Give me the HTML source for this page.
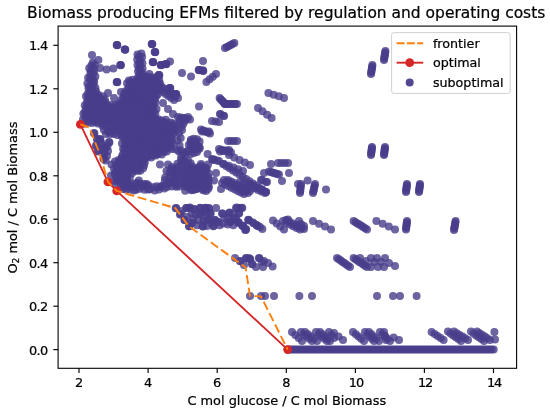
<!DOCTYPE html>
<html><head><meta charset="utf-8"><title>Biomass producing EFMs</title>
<style>html,body{margin:0;padding:0;background:#fff}body{width:550px;height:415px;overflow:hidden}</style></head>
<body>
<svg width="550" height="415" viewBox="0 0 550 415" style="display:block">
<rect width="550" height="415" fill="#fff"/>
<defs><clipPath id="c"><rect x="58.1" y="26.1" width="458.5" height="342.2"/></clipPath></defs>
<g clip-path="url(#c)">
<g fill="#483d8b" fill-opacity="0.8">
<circle cx="287.7" cy="349.6" r="4.0"/>
<circle cx="289.7" cy="349.6" r="4.0"/>
<circle cx="291.7" cy="349.6" r="4.0"/>
<circle cx="293.7" cy="349.6" r="4.0"/>
<circle cx="295.7" cy="349.6" r="4.0"/>
<circle cx="297.7" cy="349.6" r="4.0"/>
<circle cx="299.7" cy="349.6" r="4.0"/>
<circle cx="301.7" cy="349.6" r="4.0"/>
<circle cx="303.7" cy="349.6" r="4.0"/>
<circle cx="305.7" cy="349.6" r="4.0"/>
<circle cx="307.7" cy="349.6" r="4.0"/>
<circle cx="309.7" cy="349.6" r="4.0"/>
<circle cx="311.7" cy="349.6" r="4.0"/>
<circle cx="313.7" cy="349.6" r="4.0"/>
<circle cx="315.7" cy="349.6" r="4.0"/>
<circle cx="317.7" cy="349.6" r="4.0"/>
<circle cx="319.7" cy="349.6" r="4.0"/>
<circle cx="321.7" cy="349.6" r="4.0"/>
<circle cx="323.7" cy="349.6" r="4.0"/>
<circle cx="325.7" cy="349.6" r="4.0"/>
<circle cx="327.7" cy="349.6" r="4.0"/>
<circle cx="329.7" cy="349.6" r="4.0"/>
<circle cx="331.7" cy="349.6" r="4.0"/>
<circle cx="333.7" cy="349.6" r="4.0"/>
<circle cx="335.7" cy="349.6" r="4.0"/>
<circle cx="337.7" cy="349.6" r="4.0"/>
<circle cx="339.7" cy="349.6" r="4.0"/>
<circle cx="341.7" cy="349.6" r="4.0"/>
<circle cx="343.7" cy="349.6" r="4.0"/>
<circle cx="345.7" cy="349.6" r="4.0"/>
<circle cx="347.7" cy="349.6" r="4.0"/>
<circle cx="349.7" cy="349.6" r="4.0"/>
<circle cx="351.7" cy="349.6" r="4.0"/>
<circle cx="353.7" cy="349.6" r="4.0"/>
<circle cx="355.7" cy="349.6" r="4.0"/>
<circle cx="357.7" cy="349.6" r="4.0"/>
<circle cx="359.7" cy="349.6" r="4.0"/>
<circle cx="361.7" cy="349.6" r="4.0"/>
<circle cx="363.7" cy="349.6" r="4.0"/>
<circle cx="365.7" cy="349.6" r="4.0"/>
<circle cx="367.7" cy="349.6" r="4.0"/>
<circle cx="369.7" cy="349.6" r="4.0"/>
<circle cx="371.7" cy="349.6" r="4.0"/>
<circle cx="373.7" cy="349.6" r="4.0"/>
<circle cx="375.7" cy="349.6" r="4.0"/>
<circle cx="377.7" cy="349.6" r="4.0"/>
<circle cx="379.7" cy="349.6" r="4.0"/>
<circle cx="381.7" cy="349.6" r="4.0"/>
<circle cx="383.7" cy="349.6" r="4.0"/>
<circle cx="385.7" cy="349.6" r="4.0"/>
<circle cx="387.7" cy="349.6" r="4.0"/>
<circle cx="389.7" cy="349.6" r="4.0"/>
<circle cx="391.7" cy="349.6" r="4.0"/>
<circle cx="393.7" cy="349.6" r="4.0"/>
<circle cx="395.7" cy="349.6" r="4.0"/>
<circle cx="397.7" cy="349.6" r="4.0"/>
<circle cx="399.7" cy="349.6" r="4.0"/>
<circle cx="401.7" cy="349.6" r="4.0"/>
<circle cx="403.7" cy="349.6" r="4.0"/>
<circle cx="405.7" cy="349.6" r="4.0"/>
<circle cx="407.7" cy="349.6" r="4.0"/>
<circle cx="409.7" cy="349.6" r="4.0"/>
<circle cx="411.7" cy="349.6" r="4.0"/>
<circle cx="413.7" cy="349.6" r="4.0"/>
<circle cx="415.7" cy="349.6" r="4.0"/>
<circle cx="417.7" cy="349.6" r="4.0"/>
<circle cx="419.7" cy="349.6" r="4.0"/>
<circle cx="421.7" cy="349.6" r="4.0"/>
<circle cx="423.7" cy="349.6" r="4.0"/>
<circle cx="425.7" cy="349.6" r="4.0"/>
<circle cx="427.7" cy="349.6" r="4.0"/>
<circle cx="429.7" cy="349.6" r="4.0"/>
<circle cx="431.7" cy="349.6" r="4.0"/>
<circle cx="433.7" cy="349.6" r="4.0"/>
<circle cx="435.7" cy="349.6" r="4.0"/>
<circle cx="437.7" cy="349.6" r="4.0"/>
<circle cx="439.7" cy="349.6" r="4.0"/>
<circle cx="441.7" cy="349.6" r="4.0"/>
<circle cx="443.7" cy="349.6" r="4.0"/>
<circle cx="445.7" cy="349.6" r="4.0"/>
<circle cx="447.7" cy="349.6" r="4.0"/>
<circle cx="449.7" cy="349.6" r="4.0"/>
<circle cx="451.7" cy="349.6" r="4.0"/>
<circle cx="453.7" cy="349.6" r="4.0"/>
<circle cx="455.7" cy="349.6" r="4.0"/>
<circle cx="457.7" cy="349.6" r="4.0"/>
<circle cx="459.7" cy="349.6" r="4.0"/>
<circle cx="461.7" cy="349.6" r="4.0"/>
<circle cx="463.7" cy="349.6" r="4.0"/>
<circle cx="465.7" cy="349.6" r="4.0"/>
<circle cx="467.7" cy="349.6" r="4.0"/>
<circle cx="469.7" cy="349.6" r="4.0"/>
<circle cx="471.7" cy="349.6" r="4.0"/>
<circle cx="473.7" cy="349.6" r="4.0"/>
<circle cx="475.7" cy="349.6" r="4.0"/>
<circle cx="477.7" cy="349.6" r="4.0"/>
<circle cx="479.7" cy="349.6" r="4.0"/>
<circle cx="481.7" cy="349.6" r="4.0"/>
<circle cx="483.7" cy="349.6" r="4.0"/>
<circle cx="485.7" cy="349.6" r="4.0"/>
<circle cx="487.7" cy="349.6" r="4.0"/>
<circle cx="489.7" cy="349.6" r="4.0"/>
<circle cx="491.7" cy="349.6" r="4.0"/>
<circle cx="493.7" cy="349.6" r="4.0"/>
<circle cx="292.0" cy="332.0" r="4.0"/>
<circle cx="295.3" cy="335.0" r="4.0"/>
<circle cx="298.7" cy="338.0" r="4.0"/>
<circle cx="302.0" cy="341.0" r="4.0"/>
<circle cx="301.0" cy="332.0" r="4.0"/>
<circle cx="303.8" cy="334.2" r="4.0"/>
<circle cx="306.5" cy="336.5" r="4.0"/>
<circle cx="309.2" cy="338.8" r="4.0"/>
<circle cx="312.0" cy="341.0" r="4.0"/>
<circle cx="305.0" cy="332.0" r="4.0"/>
<circle cx="308.0" cy="334.2" r="4.0"/>
<circle cx="311.0" cy="336.5" r="4.0"/>
<circle cx="314.0" cy="338.8" r="4.0"/>
<circle cx="317.0" cy="341.0" r="4.0"/>
<circle cx="316.0" cy="332.0" r="4.0"/>
<circle cx="318.8" cy="334.2" r="4.0"/>
<circle cx="321.5" cy="336.5" r="4.0"/>
<circle cx="324.2" cy="338.8" r="4.0"/>
<circle cx="327.0" cy="341.0" r="4.0"/>
<circle cx="320.0" cy="332.0" r="4.0"/>
<circle cx="322.5" cy="334.2" r="4.0"/>
<circle cx="325.0" cy="336.5" r="4.0"/>
<circle cx="327.5" cy="338.8" r="4.0"/>
<circle cx="330.0" cy="341.0" r="4.0"/>
<circle cx="329.0" cy="332.0" r="4.0"/>
<circle cx="331.5" cy="335.0" r="4.0"/>
<circle cx="334.0" cy="338.0" r="4.0"/>
<circle cx="334.0" cy="333.0" r="4.0"/>
<circle cx="338.5" cy="336.5" r="4.0"/>
<circle cx="343.0" cy="340.0" r="4.0"/>
<circle cx="353.0" cy="332.0" r="4.0"/>
<circle cx="355.8" cy="334.2" r="4.0"/>
<circle cx="358.5" cy="336.5" r="4.0"/>
<circle cx="361.2" cy="338.8" r="4.0"/>
<circle cx="364.0" cy="341.0" r="4.0"/>
<circle cx="365.0" cy="332.0" r="4.0"/>
<circle cx="367.2" cy="334.2" r="4.0"/>
<circle cx="369.5" cy="336.5" r="4.0"/>
<circle cx="371.8" cy="338.8" r="4.0"/>
<circle cx="374.0" cy="341.0" r="4.0"/>
<circle cx="369.0" cy="332.0" r="4.0"/>
<circle cx="371.5" cy="334.2" r="4.0"/>
<circle cx="374.0" cy="336.5" r="4.0"/>
<circle cx="376.5" cy="338.8" r="4.0"/>
<circle cx="379.0" cy="341.0" r="4.0"/>
<circle cx="380.0" cy="332.0" r="4.0"/>
<circle cx="382.5" cy="334.2" r="4.0"/>
<circle cx="385.0" cy="336.5" r="4.0"/>
<circle cx="387.5" cy="338.8" r="4.0"/>
<circle cx="390.0" cy="341.0" r="4.0"/>
<circle cx="384.0" cy="332.0" r="4.0"/>
<circle cx="385.0" cy="336.0" r="4.0"/>
<circle cx="386.0" cy="340.0" r="4.0"/>
<circle cx="431.6" cy="332.0" r="4.0"/>
<circle cx="434.6" cy="334.0" r="4.0"/>
<circle cx="437.6" cy="336.0" r="4.0"/>
<circle cx="440.6" cy="338.0" r="4.0"/>
<circle cx="443.6" cy="340.0" r="4.0"/>
<circle cx="448.0" cy="331.6" r="4.0"/>
<circle cx="450.6" cy="333.5" r="4.0"/>
<circle cx="453.2" cy="335.4" r="4.0"/>
<circle cx="455.8" cy="337.2" r="4.0"/>
<circle cx="458.4" cy="339.1" r="4.0"/>
<circle cx="461.0" cy="341.0" r="4.0"/>
<circle cx="454.0" cy="331.6" r="4.0"/>
<circle cx="456.8" cy="333.3" r="4.0"/>
<circle cx="459.6" cy="335.0" r="4.0"/>
<circle cx="462.4" cy="336.6" r="4.0"/>
<circle cx="465.2" cy="338.3" r="4.0"/>
<circle cx="468.0" cy="340.0" r="4.0"/>
<circle cx="471.0" cy="331.6" r="4.0"/>
<circle cx="473.6" cy="333.5" r="4.0"/>
<circle cx="476.2" cy="335.4" r="4.0"/>
<circle cx="478.8" cy="337.2" r="4.0"/>
<circle cx="481.4" cy="339.1" r="4.0"/>
<circle cx="484.0" cy="341.0" r="4.0"/>
<circle cx="477.0" cy="331.6" r="4.0"/>
<circle cx="479.6" cy="333.3" r="4.0"/>
<circle cx="482.2" cy="335.0" r="4.0"/>
<circle cx="484.8" cy="336.6" r="4.0"/>
<circle cx="487.4" cy="338.3" r="4.0"/>
<circle cx="490.0" cy="340.0" r="4.0"/>
<circle cx="393.6" cy="337.6" r="4.0"/>
<circle cx="399.0" cy="340.0" r="4.0"/>
<circle cx="494.4" cy="332.0" r="4.0"/>
<circle cx="495.0" cy="339.6" r="4.0"/>
<circle cx="250.0" cy="296.0" r="4.0"/>
<circle cx="261.0" cy="296.0" r="4.0"/>
<circle cx="265.0" cy="296.0" r="4.0"/>
<circle cx="274.0" cy="296.0" r="4.0"/>
<circle cx="299.4" cy="296.0" r="4.0"/>
<circle cx="312.0" cy="296.0" r="4.0"/>
<circle cx="377.0" cy="296.0" r="4.0"/>
<circle cx="393.0" cy="296.0" r="4.0"/>
<circle cx="400.0" cy="296.0" r="4.0"/>
<circle cx="416.6" cy="296.0" r="4.0"/>
<circle cx="235.0" cy="258.0" r="4.0"/>
<circle cx="240.0" cy="261.0" r="4.0"/>
<circle cx="244.0" cy="265.0" r="4.0"/>
<circle cx="246.0" cy="258.0" r="4.0"/>
<circle cx="250.0" cy="259.0" r="4.0"/>
<circle cx="252.0" cy="264.0" r="4.0"/>
<circle cx="256.0" cy="267.0" r="4.0"/>
<circle cx="259.0" cy="258.0" r="4.0"/>
<circle cx="262.0" cy="262.0" r="4.0"/>
<circle cx="263.0" cy="267.0" r="4.0"/>
<circle cx="268.0" cy="263.0" r="4.0"/>
<circle cx="272.6" cy="266.4" r="4.0"/>
<circle cx="249.0" cy="258.0" r="4.0"/>
<circle cx="264.0" cy="261.0" r="4.0"/>
<circle cx="246.3" cy="258.3" r="4.0"/>
<circle cx="250.3" cy="259.3" r="4.0"/>
<circle cx="259.3" cy="258.3" r="4.0"/>
<circle cx="252.3" cy="264.3" r="4.0"/>
<circle cx="240.3" cy="261.3" r="4.0"/>
<circle cx="337.0" cy="258.0" r="4.0"/>
<circle cx="338.9" cy="259.3" r="4.0"/>
<circle cx="340.7" cy="260.6" r="4.0"/>
<circle cx="342.6" cy="261.9" r="4.0"/>
<circle cx="344.4" cy="263.1" r="4.0"/>
<circle cx="346.3" cy="264.4" r="4.0"/>
<circle cx="348.1" cy="265.7" r="4.0"/>
<circle cx="350.0" cy="267.0" r="4.0"/>
<circle cx="353.6" cy="258.0" r="4.0"/>
<circle cx="355.5" cy="259.3" r="4.0"/>
<circle cx="357.4" cy="260.6" r="4.0"/>
<circle cx="359.3" cy="261.9" r="4.0"/>
<circle cx="361.3" cy="263.1" r="4.0"/>
<circle cx="363.2" cy="264.4" r="4.0"/>
<circle cx="365.1" cy="265.7" r="4.0"/>
<circle cx="367.0" cy="267.0" r="4.0"/>
<circle cx="360.0" cy="258.0" r="4.0"/>
<circle cx="366.0" cy="261.0" r="4.0"/>
<circle cx="371.0" cy="258.0" r="4.0"/>
<circle cx="377.0" cy="258.0" r="4.0"/>
<circle cx="385.0" cy="258.0" r="4.0"/>
<circle cx="371.0" cy="267.0" r="4.0"/>
<circle cx="378.0" cy="267.0" r="4.0"/>
<circle cx="384.0" cy="267.0" r="4.0"/>
<circle cx="389.0" cy="263.0" r="4.0"/>
<circle cx="395.0" cy="266.0" r="4.0"/>
<circle cx="374.0" cy="262.0" r="4.0"/>
<circle cx="381.0" cy="262.0" r="4.0"/>
<circle cx="238.0" cy="222.0" r="4.0"/>
<circle cx="242.0" cy="225.5" r="4.0"/>
<circle cx="246.0" cy="229.0" r="4.0"/>
<circle cx="249.0" cy="220.4" r="4.0"/>
<circle cx="253.5" cy="223.3" r="4.0"/>
<circle cx="257.9" cy="226.1" r="4.0"/>
<circle cx="262.4" cy="229.0" r="4.0"/>
<circle cx="273.0" cy="220.4" r="4.0"/>
<circle cx="276.7" cy="223.5" r="4.0"/>
<circle cx="280.3" cy="226.5" r="4.0"/>
<circle cx="284.0" cy="229.6" r="4.0"/>
<circle cx="283.0" cy="221.0" r="4.0"/>
<circle cx="286.4" cy="222.7" r="4.0"/>
<circle cx="289.8" cy="224.4" r="4.0"/>
<circle cx="293.2" cy="226.2" r="4.0"/>
<circle cx="296.6" cy="227.9" r="4.0"/>
<circle cx="300.0" cy="229.6" r="4.0"/>
<circle cx="286.0" cy="220.0" r="4.0"/>
<circle cx="289.2" cy="221.6" r="4.0"/>
<circle cx="292.4" cy="223.2" r="4.0"/>
<circle cx="295.6" cy="224.8" r="4.0"/>
<circle cx="298.8" cy="226.4" r="4.0"/>
<circle cx="302.0" cy="228.0" r="4.0"/>
<circle cx="288.0" cy="219.6" r="4.0"/>
<circle cx="299.0" cy="221.0" r="4.0"/>
<circle cx="304.0" cy="229.0" r="4.0"/>
<circle cx="301.0" cy="224.0" r="4.0"/>
<circle cx="304.0" cy="226.0" r="4.0"/>
<circle cx="313.0" cy="221.0" r="4.0"/>
<circle cx="319.0" cy="223.8" r="4.0"/>
<circle cx="325.0" cy="226.6" r="4.0"/>
<circle cx="331.0" cy="229.4" r="4.0"/>
<circle cx="353.6" cy="221.0" r="4.0"/>
<circle cx="355.5" cy="222.2" r="4.0"/>
<circle cx="357.4" cy="223.4" r="4.0"/>
<circle cx="359.3" cy="224.6" r="4.0"/>
<circle cx="361.3" cy="225.8" r="4.0"/>
<circle cx="363.2" cy="227.0" r="4.0"/>
<circle cx="365.1" cy="228.2" r="4.0"/>
<circle cx="367.0" cy="229.4" r="4.0"/>
<circle cx="376.4" cy="221.0" r="4.0"/>
<circle cx="382.6" cy="223.8" r="4.0"/>
<circle cx="388.8" cy="226.6" r="4.0"/>
<circle cx="395.0" cy="229.4" r="4.0"/>
<circle cx="407.0" cy="221.0" r="4.0"/>
<circle cx="406.8" cy="222.4" r="4.0"/>
<circle cx="406.7" cy="223.8" r="4.0"/>
<circle cx="406.5" cy="225.2" r="4.0"/>
<circle cx="406.3" cy="226.7" r="4.0"/>
<circle cx="406.2" cy="228.1" r="4.0"/>
<circle cx="406.0" cy="229.5" r="4.0"/>
<circle cx="455.6" cy="221.0" r="4.0"/>
<circle cx="455.3" cy="222.5" r="4.0"/>
<circle cx="455.1" cy="224.0" r="4.0"/>
<circle cx="454.8" cy="225.5" r="4.0"/>
<circle cx="454.5" cy="227.0" r="4.0"/>
<circle cx="454.3" cy="228.5" r="4.0"/>
<circle cx="454.0" cy="230.0" r="4.0"/>
<circle cx="176.3" cy="208.1" r="4.0"/>
<circle cx="175.7" cy="208.3" r="4.0"/>
<circle cx="186.3" cy="208.1" r="4.0"/>
<circle cx="186.4" cy="208.0" r="4.0"/>
<circle cx="189.9" cy="208.1" r="4.0"/>
<circle cx="189.9" cy="207.6" r="4.0"/>
<circle cx="200.7" cy="208.1" r="4.0"/>
<circle cx="200.0" cy="207.7" r="4.0"/>
<circle cx="205.2" cy="208.1" r="4.0"/>
<circle cx="205.7" cy="207.7" r="4.0"/>
<circle cx="208.9" cy="208.1" r="4.0"/>
<circle cx="209.1" cy="208.5" r="4.0"/>
<circle cx="216.1" cy="208.1" r="4.0"/>
<circle cx="236.0" cy="208.1" r="4.0"/>
<circle cx="236.8" cy="207.6" r="4.0"/>
<circle cx="239.6" cy="208.1" r="4.0"/>
<circle cx="242.3" cy="208.1" r="4.0"/>
<circle cx="241.7" cy="207.7" r="4.0"/>
<circle cx="180.0" cy="214.5" r="4.0"/>
<circle cx="180.5" cy="214.2" r="4.0"/>
<circle cx="191.7" cy="213.5" r="4.0"/>
<circle cx="195.3" cy="214.5" r="4.0"/>
<circle cx="199.8" cy="214.5" r="4.0"/>
<circle cx="199.9" cy="214.1" r="4.0"/>
<circle cx="210.7" cy="213.5" r="4.0"/>
<circle cx="210.2" cy="213.7" r="4.0"/>
<circle cx="222.4" cy="213.5" r="4.0"/>
<circle cx="222.1" cy="213.6" r="4.0"/>
<circle cx="229.6" cy="212.6" r="4.0"/>
<circle cx="229.3" cy="212.9" r="4.0"/>
<circle cx="233.3" cy="213.5" r="4.0"/>
<circle cx="184.5" cy="219.9" r="4.0"/>
<circle cx="184.6" cy="219.9" r="4.0"/>
<circle cx="193.5" cy="219.0" r="4.0"/>
<circle cx="198.0" cy="219.9" r="4.0"/>
<circle cx="203.4" cy="220.8" r="4.0"/>
<circle cx="204.2" cy="220.4" r="4.0"/>
<circle cx="208.0" cy="219.9" r="4.0"/>
<circle cx="208.4" cy="219.6" r="4.0"/>
<circle cx="215.2" cy="219.9" r="4.0"/>
<circle cx="214.5" cy="220.1" r="4.0"/>
<circle cx="224.2" cy="218.0" r="4.0"/>
<circle cx="227.8" cy="217.2" r="4.0"/>
<circle cx="232.4" cy="219.9" r="4.0"/>
<circle cx="189.0" cy="226.2" r="4.0"/>
<circle cx="189.3" cy="226.3" r="4.0"/>
<circle cx="197.0" cy="225.3" r="4.0"/>
<circle cx="202.5" cy="226.2" r="4.0"/>
<circle cx="203.0" cy="226.6" r="4.0"/>
<circle cx="213.4" cy="226.2" r="4.0"/>
<circle cx="213.7" cy="225.8" r="4.0"/>
<circle cx="219.7" cy="225.3" r="4.0"/>
<circle cx="223.3" cy="223.5" r="4.0"/>
<circle cx="227.8" cy="224.4" r="4.0"/>
<circle cx="233.3" cy="225.3" r="4.0"/>
<circle cx="238.7" cy="222.6" r="4.0"/>
<circle cx="238.5" cy="222.8" r="4.0"/>
<circle cx="243.2" cy="226.2" r="4.0"/>
<circle cx="243.1" cy="225.9" r="4.0"/>
<circle cx="245.9" cy="229.8" r="4.0"/>
<circle cx="245.2" cy="230.1" r="4.0"/>
<circle cx="248.6" cy="219.9" r="4.0"/>
<circle cx="248.2" cy="219.8" r="4.0"/>
<circle cx="253.1" cy="222.6" r="4.0"/>
<circle cx="256.8" cy="225.3" r="4.0"/>
<circle cx="256.7" cy="225.3" r="4.0"/>
<circle cx="260.0" cy="227.1" r="4.0"/>
<circle cx="182.0" cy="211.0" r="4.0"/>
<circle cx="187.0" cy="217.0" r="4.0"/>
<circle cx="192.0" cy="223.0" r="4.0"/>
<circle cx="191.9" cy="222.9" r="4.0"/>
<circle cx="206.0" cy="214.0" r="4.0"/>
<circle cx="211.0" cy="223.0" r="4.0"/>
<circle cx="218.0" cy="222.0" r="4.0"/>
<circle cx="217.5" cy="221.7" r="4.0"/>
<circle cx="230.0" cy="222.0" r="4.0"/>
<circle cx="230.0" cy="222.1" r="4.0"/>
<circle cx="236.0" cy="218.0" r="4.0"/>
<circle cx="235.2" cy="217.9" r="4.0"/>
<circle cx="239.0" cy="213.0" r="4.0"/>
<circle cx="239.1" cy="213.5" r="4.0"/>
<circle cx="207.0" cy="226.0" r="4.0"/>
<circle cx="194.0" cy="209.0" r="4.0"/>
<circle cx="194.2" cy="209.2" r="4.0"/>
<circle cx="203.0" cy="212.0" r="4.0"/>
<circle cx="203.6" cy="212.3" r="4.0"/>
<circle cx="385.4" cy="51.0" r="4.0"/>
<circle cx="385.2" cy="52.5" r="4.0"/>
<circle cx="384.9" cy="54.0" r="4.0"/>
<circle cx="384.7" cy="55.5" r="4.0"/>
<circle cx="384.5" cy="57.0" r="4.0"/>
<circle cx="384.2" cy="58.5" r="4.0"/>
<circle cx="384.0" cy="60.0" r="4.0"/>
<circle cx="372.4" cy="65.0" r="4.0"/>
<circle cx="372.2" cy="66.5" r="4.0"/>
<circle cx="371.9" cy="68.0" r="4.0"/>
<circle cx="371.7" cy="69.5" r="4.0"/>
<circle cx="371.5" cy="71.0" r="4.0"/>
<circle cx="371.2" cy="72.5" r="4.0"/>
<circle cx="371.0" cy="74.0" r="4.0"/>
<circle cx="372.0" cy="147.0" r="4.0"/>
<circle cx="371.8" cy="148.3" r="4.0"/>
<circle cx="371.7" cy="149.7" r="4.0"/>
<circle cx="371.5" cy="151.0" r="4.0"/>
<circle cx="371.3" cy="152.3" r="4.0"/>
<circle cx="371.2" cy="153.7" r="4.0"/>
<circle cx="371.0" cy="155.0" r="4.0"/>
<circle cx="385.0" cy="147.0" r="4.0"/>
<circle cx="384.8" cy="148.3" r="4.0"/>
<circle cx="384.7" cy="149.7" r="4.0"/>
<circle cx="384.5" cy="151.0" r="4.0"/>
<circle cx="384.3" cy="152.3" r="4.0"/>
<circle cx="384.2" cy="153.7" r="4.0"/>
<circle cx="384.0" cy="155.0" r="4.0"/>
<circle cx="407.0" cy="184.0" r="4.0"/>
<circle cx="406.8" cy="185.3" r="4.0"/>
<circle cx="406.7" cy="186.7" r="4.0"/>
<circle cx="406.5" cy="188.0" r="4.0"/>
<circle cx="406.3" cy="189.3" r="4.0"/>
<circle cx="406.2" cy="190.7" r="4.0"/>
<circle cx="406.0" cy="192.0" r="4.0"/>
<circle cx="420.0" cy="184.0" r="4.0"/>
<circle cx="419.8" cy="185.3" r="4.0"/>
<circle cx="419.7" cy="186.7" r="4.0"/>
<circle cx="419.5" cy="188.0" r="4.0"/>
<circle cx="419.3" cy="189.3" r="4.0"/>
<circle cx="419.2" cy="190.7" r="4.0"/>
<circle cx="419.0" cy="192.0" r="4.0"/>
<circle cx="301.0" cy="184.0" r="4.0"/>
<circle cx="300.8" cy="185.8" r="4.0"/>
<circle cx="300.6" cy="187.6" r="4.0"/>
<circle cx="300.4" cy="189.4" r="4.0"/>
<circle cx="300.2" cy="191.2" r="4.0"/>
<circle cx="300.0" cy="193.0" r="4.0"/>
<circle cx="315.0" cy="184.0" r="4.0"/>
<circle cx="314.6" cy="185.8" r="4.0"/>
<circle cx="314.2" cy="187.6" r="4.0"/>
<circle cx="313.8" cy="189.4" r="4.0"/>
<circle cx="313.4" cy="191.2" r="4.0"/>
<circle cx="313.0" cy="193.0" r="4.0"/>
<circle cx="307.6" cy="180.6" r="4.0"/>
<circle cx="326.0" cy="189.4" r="4.0"/>
<circle cx="225.0" cy="48.0" r="4.0"/>
<circle cx="226.9" cy="47.0" r="4.0"/>
<circle cx="228.8" cy="46.0" r="4.0"/>
<circle cx="230.6" cy="45.0" r="4.0"/>
<circle cx="232.5" cy="44.0" r="4.0"/>
<circle cx="234.4" cy="43.0" r="4.0"/>
<circle cx="203.0" cy="61.0" r="4.0"/>
<circle cx="199.0" cy="70.0" r="4.0"/>
<circle cx="203.0" cy="70.6" r="4.0"/>
<circle cx="191.0" cy="76.4" r="4.0"/>
<circle cx="199.0" cy="106.5" r="4.0"/>
<circle cx="206.4" cy="82.0" r="4.0"/>
<circle cx="209.6" cy="79.3" r="4.0"/>
<circle cx="212.8" cy="76.7" r="4.0"/>
<circle cx="216.0" cy="74.0" r="4.0"/>
<circle cx="219.6" cy="98.0" r="4.0"/>
<circle cx="220.7" cy="99.2" r="4.0"/>
<circle cx="221.8" cy="100.4" r="4.0"/>
<circle cx="222.8" cy="101.6" r="4.0"/>
<circle cx="223.9" cy="102.8" r="4.0"/>
<circle cx="225.0" cy="104.0" r="4.0"/>
<circle cx="225.0" cy="104.0" r="4.0"/>
<circle cx="226.7" cy="104.0" r="4.0"/>
<circle cx="228.4" cy="104.0" r="4.0"/>
<circle cx="230.1" cy="104.0" r="4.0"/>
<circle cx="231.9" cy="104.0" r="4.0"/>
<circle cx="233.6" cy="104.0" r="4.0"/>
<circle cx="235.3" cy="104.0" r="4.0"/>
<circle cx="237.0" cy="104.0" r="4.0"/>
<circle cx="268.4" cy="93.0" r="4.0"/>
<circle cx="273.6" cy="94.7" r="4.0"/>
<circle cx="278.8" cy="96.3" r="4.0"/>
<circle cx="284.0" cy="98.0" r="4.0"/>
<circle cx="258.0" cy="108.0" r="4.0"/>
<circle cx="262.5" cy="111.3" r="4.0"/>
<circle cx="267.1" cy="114.7" r="4.0"/>
<circle cx="271.6" cy="118.0" r="4.0"/>
<circle cx="220.0" cy="114.0" r="4.0"/>
<circle cx="220.5" cy="114.2" r="4.0"/>
<circle cx="224.0" cy="116.0" r="4.0"/>
<circle cx="223.6" cy="115.8" r="4.0"/>
<circle cx="212.0" cy="121.0" r="4.0"/>
<circle cx="215.5" cy="121.5" r="4.0"/>
<circle cx="219.0" cy="122.0" r="4.0"/>
<circle cx="201.0" cy="129.5" r="4.0"/>
<circle cx="203.2" cy="130.5" r="4.0"/>
<circle cx="205.5" cy="131.5" r="4.0"/>
<circle cx="207.8" cy="132.5" r="4.0"/>
<circle cx="210.0" cy="133.5" r="4.0"/>
<circle cx="202.0" cy="131.5" r="4.0"/>
<circle cx="205.5" cy="131.5" r="4.0"/>
<circle cx="209.0" cy="131.5" r="4.0"/>
<circle cx="228.0" cy="141.0" r="4.0"/>
<circle cx="231.0" cy="141.0" r="4.0"/>
<circle cx="234.0" cy="141.0" r="4.0"/>
<circle cx="237.0" cy="141.0" r="4.0"/>
<circle cx="219.0" cy="149.0" r="4.0"/>
<circle cx="221.4" cy="149.7" r="4.0"/>
<circle cx="223.8" cy="150.4" r="4.0"/>
<circle cx="226.2" cy="151.1" r="4.0"/>
<circle cx="228.6" cy="151.8" r="4.0"/>
<circle cx="231.0" cy="152.5" r="4.0"/>
<circle cx="220.0" cy="151.5" r="4.0"/>
<circle cx="223.0" cy="151.0" r="4.0"/>
<circle cx="226.0" cy="150.5" r="4.0"/>
<circle cx="229.0" cy="150.0" r="4.0"/>
<circle cx="207.6" cy="154.0" r="4.0"/>
<circle cx="229.0" cy="155.0" r="4.0"/>
<circle cx="234.2" cy="157.5" r="4.0"/>
<circle cx="239.5" cy="160.0" r="4.0"/>
<circle cx="244.8" cy="162.5" r="4.0"/>
<circle cx="250.0" cy="165.0" r="4.0"/>
<circle cx="212.0" cy="159.0" r="4.0"/>
<circle cx="219.0" cy="161.0" r="4.0"/>
<circle cx="214.0" cy="159.5" r="4.0"/>
<circle cx="217.0" cy="160.5" r="4.0"/>
<circle cx="213.0" cy="160.0" r="4.0"/>
<circle cx="201.0" cy="164.0" r="4.0"/>
<circle cx="208.0" cy="164.4" r="4.0"/>
<circle cx="216.0" cy="173.0" r="4.0"/>
<circle cx="214.0" cy="180.6" r="4.0"/>
<circle cx="221.0" cy="189.0" r="4.0"/>
<circle cx="224.0" cy="164.0" r="4.0"/>
<circle cx="228.8" cy="165.8" r="4.0"/>
<circle cx="233.5" cy="167.5" r="4.0"/>
<circle cx="238.2" cy="169.2" r="4.0"/>
<circle cx="243.0" cy="171.0" r="4.0"/>
<circle cx="271.0" cy="164.0" r="4.0"/>
<circle cx="264.0" cy="173.0" r="4.0"/>
<circle cx="289.0" cy="173.0" r="4.0"/>
<circle cx="262.0" cy="180.0" r="4.0"/>
<circle cx="267.0" cy="182.0" r="4.0"/>
<circle cx="282.0" cy="181.0" r="4.0"/>
<circle cx="298.0" cy="184.0" r="4.0"/>
<circle cx="278.0" cy="163.0" r="4.0"/>
<circle cx="281.3" cy="163.0" r="4.0"/>
<circle cx="284.7" cy="163.0" r="4.0"/>
<circle cx="288.0" cy="163.0" r="4.0"/>
<circle cx="269.0" cy="171.5" r="4.0"/>
<circle cx="270.7" cy="172.0" r="4.0"/>
<circle cx="272.3" cy="172.5" r="4.0"/>
<circle cx="274.0" cy="173.0" r="4.0"/>
<circle cx="275.7" cy="173.5" r="4.0"/>
<circle cx="277.3" cy="174.0" r="4.0"/>
<circle cx="279.0" cy="174.5" r="4.0"/>
<circle cx="190.9" cy="139.7" r="4.0"/>
<circle cx="193.7" cy="138.8" r="4.0"/>
<circle cx="197.0" cy="139.3" r="4.0"/>
<circle cx="190.9" cy="141.4" r="4.0"/>
<circle cx="195.3" cy="141.7" r="4.0"/>
<circle cx="199.6" cy="141.4" r="4.0"/>
<circle cx="188.8" cy="145.1" r="4.0"/>
<circle cx="193.0" cy="145.6" r="4.0"/>
<circle cx="196.9" cy="146.9" r="4.0"/>
<circle cx="192.3" cy="148.6" r="4.0"/>
<circle cx="195.4" cy="149.1" r="4.0"/>
<circle cx="199.7" cy="148.5" r="4.0"/>
<circle cx="190.8" cy="154.1" r="4.0"/>
<circle cx="193.9" cy="152.9" r="4.0"/>
<circle cx="197.0" cy="152.0" r="4.0"/>
<circle cx="185.6" cy="168.4" r="4.0"/>
<circle cx="190.8" cy="168.2" r="4.0"/>
<circle cx="192.9" cy="170.1" r="4.0"/>
<circle cx="198.1" cy="168.2" r="4.0"/>
<circle cx="202.1" cy="167.9" r="4.0"/>
<circle cx="206.1" cy="170.1" r="4.0"/>
<circle cx="188.9" cy="173.0" r="4.0"/>
<circle cx="191.4" cy="172.2" r="4.0"/>
<circle cx="195.2" cy="173.1" r="4.0"/>
<circle cx="200.1" cy="173.1" r="4.0"/>
<circle cx="203.6" cy="171.8" r="4.0"/>
<circle cx="208.7" cy="173.6" r="4.0"/>
<circle cx="186.8" cy="176.7" r="4.0"/>
<circle cx="190.8" cy="176.5" r="4.0"/>
<circle cx="193.3" cy="176.0" r="4.0"/>
<circle cx="197.7" cy="174.8" r="4.0"/>
<circle cx="200.9" cy="175.4" r="4.0"/>
<circle cx="205.4" cy="176.4" r="4.0"/>
<circle cx="189.1" cy="179.3" r="4.0"/>
<circle cx="193.0" cy="180.6" r="4.0"/>
<circle cx="197.1" cy="179.1" r="4.0"/>
<circle cx="199.3" cy="178.8" r="4.0"/>
<circle cx="203.3" cy="178.7" r="4.0"/>
<circle cx="208.3" cy="180.4" r="4.0"/>
<circle cx="186.8" cy="182.9" r="4.0"/>
<circle cx="190.4" cy="183.6" r="4.0"/>
<circle cx="193.0" cy="183.3" r="4.0"/>
<circle cx="199.0" cy="183.6" r="4.0"/>
<circle cx="202.6" cy="182.9" r="4.0"/>
<circle cx="205.2" cy="183.6" r="4.0"/>
<circle cx="187.6" cy="187.1" r="4.0"/>
<circle cx="193.1" cy="186.2" r="4.0"/>
<circle cx="195.8" cy="187.5" r="4.0"/>
<circle cx="200.5" cy="185.6" r="4.0"/>
<circle cx="203.1" cy="185.6" r="4.0"/>
<circle cx="209.0" cy="187.1" r="4.0"/>
<circle cx="185.2" cy="190.7" r="4.0"/>
<circle cx="191.2" cy="190.3" r="4.0"/>
<circle cx="193.6" cy="190.0" r="4.0"/>
<circle cx="197.1" cy="188.7" r="4.0"/>
<circle cx="203.1" cy="190.2" r="4.0"/>
<circle cx="206.1" cy="190.9" r="4.0"/>
<circle cx="223.0" cy="164.0" r="4.0"/>
<circle cx="226.3" cy="166.2" r="4.0"/>
<circle cx="229.6" cy="168.3" r="4.0"/>
<circle cx="232.9" cy="170.5" r="4.0"/>
<circle cx="236.2" cy="172.6" r="4.0"/>
<circle cx="239.5" cy="174.8" r="4.0"/>
<circle cx="242.8" cy="176.9" r="4.0"/>
<circle cx="246.2" cy="179.1" r="4.0"/>
<circle cx="249.5" cy="181.2" r="4.0"/>
<circle cx="252.8" cy="183.4" r="4.0"/>
<circle cx="256.1" cy="185.5" r="4.0"/>
<circle cx="259.4" cy="187.7" r="4.0"/>
<circle cx="262.7" cy="189.8" r="4.0"/>
<circle cx="266.0" cy="192.0" r="4.0"/>
<circle cx="224.0" cy="180.0" r="4.0"/>
<circle cx="227.0" cy="181.6" r="4.0"/>
<circle cx="230.0" cy="183.2" r="4.0"/>
<circle cx="233.0" cy="184.9" r="4.0"/>
<circle cx="236.0" cy="186.5" r="4.0"/>
<circle cx="239.0" cy="188.1" r="4.0"/>
<circle cx="242.0" cy="189.8" r="4.0"/>
<circle cx="245.0" cy="191.4" r="4.0"/>
<circle cx="248.0" cy="193.0" r="4.0"/>
<circle cx="222.0" cy="183.0" r="4.0"/>
<circle cx="225.1" cy="184.6" r="4.0"/>
<circle cx="228.3" cy="186.1" r="4.0"/>
<circle cx="231.4" cy="187.7" r="4.0"/>
<circle cx="234.6" cy="189.3" r="4.0"/>
<circle cx="237.7" cy="190.9" r="4.0"/>
<circle cx="240.9" cy="192.4" r="4.0"/>
<circle cx="244.0" cy="194.0" r="4.0"/>
<circle cx="228.0" cy="180.0" r="4.0"/>
<circle cx="231.1" cy="181.6" r="4.0"/>
<circle cx="234.3" cy="183.1" r="4.0"/>
<circle cx="237.4" cy="184.7" r="4.0"/>
<circle cx="240.6" cy="186.3" r="4.0"/>
<circle cx="243.7" cy="187.9" r="4.0"/>
<circle cx="246.9" cy="189.4" r="4.0"/>
<circle cx="250.0" cy="191.0" r="4.0"/>
<circle cx="250.0" cy="184.0" r="4.0"/>
<circle cx="254.0" cy="186.0" r="4.0"/>
<circle cx="258.0" cy="188.0" r="4.0"/>
<circle cx="262.0" cy="190.0" r="4.0"/>
<circle cx="266.0" cy="192.0" r="4.0"/>
<circle cx="240.0" cy="182.0" r="4.0"/>
<circle cx="243.6" cy="183.6" r="4.0"/>
<circle cx="247.1" cy="185.1" r="4.0"/>
<circle cx="250.7" cy="186.7" r="4.0"/>
<circle cx="254.3" cy="188.3" r="4.0"/>
<circle cx="257.9" cy="189.9" r="4.0"/>
<circle cx="261.4" cy="191.4" r="4.0"/>
<circle cx="265.0" cy="193.0" r="4.0"/>
<circle cx="261.0" cy="180.0" r="4.0"/>
<circle cx="266.0" cy="182.0" r="4.0"/>
<circle cx="117.0" cy="45.0" r="4.0"/>
<circle cx="125.0" cy="49.4" r="4.0"/>
<circle cx="152.0" cy="44.0" r="4.0"/>
<circle cx="155.0" cy="52.0" r="4.0"/>
<circle cx="92.0" cy="55.0" r="4.0"/>
<circle cx="98.4" cy="60.0" r="4.0"/>
<circle cx="100.0" cy="68.0" r="4.0"/>
<circle cx="106.6" cy="69.4" r="4.0"/>
<circle cx="113.4" cy="68.6" r="4.0"/>
<circle cx="120.6" cy="65.0" r="4.0"/>
<circle cx="153.0" cy="62.0" r="4.0"/>
<circle cx="161.0" cy="65.0" r="4.0"/>
<circle cx="166.0" cy="64.0" r="4.0"/>
<circle cx="170.0" cy="61.4" r="4.0"/>
<circle cx="149.4" cy="74.0" r="4.0"/>
<circle cx="159.0" cy="75.0" r="4.0"/>
<circle cx="117.0" cy="82.0" r="4.0"/>
<circle cx="108.0" cy="93.0" r="4.0"/>
<circle cx="114.0" cy="98.0" r="4.0"/>
<circle cx="121.0" cy="92.0" r="4.0"/>
<circle cx="182.0" cy="73.0" r="4.0"/>
<circle cx="170.0" cy="88.0" r="4.0"/>
<circle cx="176.0" cy="94.0" r="4.0"/>
<circle cx="117.3" cy="45.3" r="4.0"/>
<circle cx="116.7" cy="45.0" r="4.0"/>
<circle cx="125.3" cy="49.7" r="4.0"/>
<circle cx="124.7" cy="49.4" r="4.0"/>
<circle cx="152.3" cy="44.3" r="4.0"/>
<circle cx="151.7" cy="44.0" r="4.0"/>
<circle cx="155.3" cy="52.3" r="4.0"/>
<circle cx="154.7" cy="52.0" r="4.0"/>
<circle cx="120.9" cy="65.3" r="4.0"/>
<circle cx="120.3" cy="65.0" r="4.0"/>
<circle cx="117.3" cy="82.3" r="4.0"/>
<circle cx="116.7" cy="82.0" r="4.0"/>
<circle cx="153.3" cy="62.3" r="4.0"/>
<circle cx="152.7" cy="62.0" r="4.0"/>
<circle cx="161.3" cy="65.3" r="4.0"/>
<circle cx="160.7" cy="65.0" r="4.0"/>
<circle cx="166.3" cy="64.3" r="4.0"/>
<circle cx="165.7" cy="64.0" r="4.0"/>
<circle cx="159.3" cy="75.3" r="4.0"/>
<circle cx="158.7" cy="75.0" r="4.0"/>
<circle cx="170.3" cy="88.3" r="4.0"/>
<circle cx="169.7" cy="88.0" r="4.0"/>
<circle cx="176.3" cy="94.3" r="4.0"/>
<circle cx="175.7" cy="94.0" r="4.0"/>
<circle cx="203.3" cy="70.9" r="4.0"/>
<circle cx="202.7" cy="70.6" r="4.0"/>
<circle cx="199.3" cy="70.3" r="4.0"/>
<circle cx="198.7" cy="70.0" r="4.0"/>
<circle cx="104.0" cy="130.0" r="4.0"/>
<circle cx="108.0" cy="131.0" r="4.0"/>
<circle cx="106.0" cy="134.0" r="4.0"/>
<circle cx="110.0" cy="134.0" r="4.0"/>
<circle cx="137.5" cy="54.6" r="4.0"/>
<circle cx="141.4" cy="53.5" r="4.0"/>
<circle cx="138.9" cy="56.5" r="4.0"/>
<circle cx="142.1" cy="57.0" r="4.0"/>
<circle cx="137.2" cy="59.6" r="4.0"/>
<circle cx="140.3" cy="60.4" r="4.0"/>
<circle cx="92.8" cy="62.5" r="4.0"/>
<circle cx="139.4" cy="63.3" r="4.0"/>
<circle cx="142.4" cy="63.3" r="4.0"/>
<circle cx="91.4" cy="65.5" r="4.0"/>
<circle cx="94.7" cy="64.7" r="4.0"/>
<circle cx="137.5" cy="65.0" r="4.0"/>
<circle cx="140.1" cy="66.0" r="4.0"/>
<circle cx="89.2" cy="68.3" r="4.0"/>
<circle cx="93.4" cy="68.4" r="4.0"/>
<circle cx="139.0" cy="68.4" r="4.0"/>
<circle cx="142.6" cy="68.8" r="4.0"/>
<circle cx="90.8" cy="71.3" r="4.0"/>
<circle cx="94.3" cy="70.9" r="4.0"/>
<circle cx="138.0" cy="71.2" r="4.0"/>
<circle cx="141.0" cy="71.6" r="4.0"/>
<circle cx="90.4" cy="74.0" r="4.0"/>
<circle cx="93.2" cy="74.1" r="4.0"/>
<circle cx="139.3" cy="74.4" r="4.0"/>
<circle cx="142.5" cy="74.2" r="4.0"/>
<circle cx="88.1" cy="77.7" r="4.0"/>
<circle cx="91.7" cy="77.6" r="4.0"/>
<circle cx="95.4" cy="76.6" r="4.0"/>
<circle cx="137.7" cy="77.7" r="4.0"/>
<circle cx="141.4" cy="76.4" r="4.0"/>
<circle cx="143.6" cy="76.9" r="4.0"/>
<circle cx="146.8" cy="76.6" r="4.0"/>
<circle cx="150.1" cy="77.2" r="4.0"/>
<circle cx="154.6" cy="77.6" r="4.0"/>
<circle cx="156.8" cy="77.3" r="4.0"/>
<circle cx="90.0" cy="79.3" r="4.0"/>
<circle cx="93.7" cy="80.6" r="4.0"/>
<circle cx="128.9" cy="80.6" r="4.0"/>
<circle cx="132.5" cy="79.8" r="4.0"/>
<circle cx="136.7" cy="80.4" r="4.0"/>
<circle cx="138.7" cy="79.7" r="4.0"/>
<circle cx="142.6" cy="79.6" r="4.0"/>
<circle cx="145.4" cy="79.5" r="4.0"/>
<circle cx="149.5" cy="79.1" r="4.0"/>
<circle cx="152.5" cy="79.7" r="4.0"/>
<circle cx="155.0" cy="79.6" r="4.0"/>
<circle cx="159.2" cy="79.9" r="4.0"/>
<circle cx="87.4" cy="83.5" r="4.0"/>
<circle cx="91.9" cy="83.5" r="4.0"/>
<circle cx="94.1" cy="82.3" r="4.0"/>
<circle cx="127.0" cy="83.2" r="4.0"/>
<circle cx="130.6" cy="82.1" r="4.0"/>
<circle cx="134.2" cy="83.4" r="4.0"/>
<circle cx="138.1" cy="82.3" r="4.0"/>
<circle cx="140.3" cy="83.4" r="4.0"/>
<circle cx="144.3" cy="83.0" r="4.0"/>
<circle cx="146.8" cy="82.0" r="4.0"/>
<circle cx="151.1" cy="82.6" r="4.0"/>
<circle cx="153.4" cy="83.4" r="4.0"/>
<circle cx="157.6" cy="83.2" r="4.0"/>
<circle cx="160.0" cy="83.3" r="4.0"/>
<circle cx="89.1" cy="86.2" r="4.0"/>
<circle cx="93.0" cy="85.3" r="4.0"/>
<circle cx="129.4" cy="86.3" r="4.0"/>
<circle cx="132.3" cy="85.0" r="4.0"/>
<circle cx="136.0" cy="85.2" r="4.0"/>
<circle cx="138.6" cy="85.0" r="4.0"/>
<circle cx="141.8" cy="85.1" r="4.0"/>
<circle cx="145.5" cy="85.3" r="4.0"/>
<circle cx="149.6" cy="85.2" r="4.0"/>
<circle cx="152.5" cy="85.1" r="4.0"/>
<circle cx="155.5" cy="84.8" r="4.0"/>
<circle cx="158.7" cy="84.8" r="4.0"/>
<circle cx="88.5" cy="88.5" r="4.0"/>
<circle cx="90.9" cy="88.4" r="4.0"/>
<circle cx="95.4" cy="87.8" r="4.0"/>
<circle cx="128.2" cy="88.3" r="4.0"/>
<circle cx="131.0" cy="89.0" r="4.0"/>
<circle cx="134.1" cy="88.5" r="4.0"/>
<circle cx="137.9" cy="89.2" r="4.0"/>
<circle cx="140.6" cy="89.0" r="4.0"/>
<circle cx="144.5" cy="88.7" r="4.0"/>
<circle cx="147.3" cy="88.2" r="4.0"/>
<circle cx="150.1" cy="87.9" r="4.0"/>
<circle cx="153.4" cy="88.8" r="4.0"/>
<circle cx="157.0" cy="87.9" r="4.0"/>
<circle cx="160.0" cy="89.0" r="4.0"/>
<circle cx="90.3" cy="91.6" r="4.0"/>
<circle cx="92.7" cy="90.9" r="4.0"/>
<circle cx="96.0" cy="91.3" r="4.0"/>
<circle cx="125.5" cy="91.2" r="4.0"/>
<circle cx="129.0" cy="92.1" r="4.0"/>
<circle cx="133.4" cy="91.4" r="4.0"/>
<circle cx="135.5" cy="92.1" r="4.0"/>
<circle cx="138.9" cy="91.1" r="4.0"/>
<circle cx="141.8" cy="91.1" r="4.0"/>
<circle cx="145.8" cy="91.3" r="4.0"/>
<circle cx="148.7" cy="91.3" r="4.0"/>
<circle cx="151.7" cy="90.9" r="4.0"/>
<circle cx="155.1" cy="91.2" r="4.0"/>
<circle cx="158.3" cy="90.6" r="4.0"/>
<circle cx="87.8" cy="93.8" r="4.0"/>
<circle cx="91.5" cy="94.2" r="4.0"/>
<circle cx="95.1" cy="94.4" r="4.0"/>
<circle cx="98.3" cy="94.8" r="4.0"/>
<circle cx="124.2" cy="93.9" r="4.0"/>
<circle cx="128.5" cy="93.6" r="4.0"/>
<circle cx="131.4" cy="94.4" r="4.0"/>
<circle cx="133.6" cy="94.7" r="4.0"/>
<circle cx="138.2" cy="94.4" r="4.0"/>
<circle cx="141.3" cy="94.7" r="4.0"/>
<circle cx="143.6" cy="94.2" r="4.0"/>
<circle cx="147.5" cy="94.7" r="4.0"/>
<circle cx="151.3" cy="94.7" r="4.0"/>
<circle cx="154.2" cy="94.8" r="4.0"/>
<circle cx="157.7" cy="94.5" r="4.0"/>
<circle cx="86.0" cy="96.3" r="4.0"/>
<circle cx="89.2" cy="96.8" r="4.0"/>
<circle cx="92.4" cy="97.6" r="4.0"/>
<circle cx="96.4" cy="97.3" r="4.0"/>
<circle cx="99.9" cy="97.4" r="4.0"/>
<circle cx="102.9" cy="96.3" r="4.0"/>
<circle cx="123.2" cy="97.5" r="4.0"/>
<circle cx="126.1" cy="97.1" r="4.0"/>
<circle cx="129.6" cy="96.4" r="4.0"/>
<circle cx="133.0" cy="96.7" r="4.0"/>
<circle cx="135.3" cy="96.7" r="4.0"/>
<circle cx="139.6" cy="96.6" r="4.0"/>
<circle cx="142.9" cy="97.8" r="4.0"/>
<circle cx="145.8" cy="96.9" r="4.0"/>
<circle cx="149.1" cy="97.4" r="4.0"/>
<circle cx="152.9" cy="97.3" r="4.0"/>
<circle cx="156.0" cy="96.4" r="4.0"/>
<circle cx="87.5" cy="99.5" r="4.0"/>
<circle cx="91.8" cy="99.6" r="4.0"/>
<circle cx="94.8" cy="99.2" r="4.0"/>
<circle cx="97.3" cy="99.6" r="4.0"/>
<circle cx="101.6" cy="100.2" r="4.0"/>
<circle cx="104.9" cy="99.6" r="4.0"/>
<circle cx="121.1" cy="99.9" r="4.0"/>
<circle cx="124.3" cy="99.3" r="4.0"/>
<circle cx="128.3" cy="99.5" r="4.0"/>
<circle cx="131.8" cy="100.6" r="4.0"/>
<circle cx="133.5" cy="99.9" r="4.0"/>
<circle cx="138.1" cy="100.7" r="4.0"/>
<circle cx="140.8" cy="99.6" r="4.0"/>
<circle cx="143.7" cy="100.6" r="4.0"/>
<circle cx="147.0" cy="100.1" r="4.0"/>
<circle cx="150.2" cy="100.0" r="4.0"/>
<circle cx="154.8" cy="99.3" r="4.0"/>
<circle cx="87.0" cy="102.8" r="4.0"/>
<circle cx="90.4" cy="103.1" r="4.0"/>
<circle cx="92.6" cy="103.4" r="4.0"/>
<circle cx="96.3" cy="102.0" r="4.0"/>
<circle cx="98.9" cy="102.8" r="4.0"/>
<circle cx="102.9" cy="102.5" r="4.0"/>
<circle cx="105.7" cy="102.6" r="4.0"/>
<circle cx="119.2" cy="103.4" r="4.0"/>
<circle cx="122.0" cy="103.2" r="4.0"/>
<circle cx="126.6" cy="102.2" r="4.0"/>
<circle cx="130.0" cy="103.1" r="4.0"/>
<circle cx="133.3" cy="102.5" r="4.0"/>
<circle cx="135.7" cy="102.6" r="4.0"/>
<circle cx="140.0" cy="102.9" r="4.0"/>
<circle cx="142.3" cy="102.7" r="4.0"/>
<circle cx="145.5" cy="102.1" r="4.0"/>
<circle cx="148.5" cy="103.3" r="4.0"/>
<circle cx="152.1" cy="103.5" r="4.0"/>
<circle cx="155.3" cy="102.4" r="4.0"/>
<circle cx="84.8" cy="105.2" r="4.0"/>
<circle cx="87.9" cy="106.4" r="4.0"/>
<circle cx="92.0" cy="106.2" r="4.0"/>
<circle cx="94.9" cy="106.3" r="4.0"/>
<circle cx="98.7" cy="105.8" r="4.0"/>
<circle cx="101.7" cy="105.0" r="4.0"/>
<circle cx="105.0" cy="105.6" r="4.0"/>
<circle cx="108.3" cy="105.9" r="4.0"/>
<circle cx="110.9" cy="105.0" r="4.0"/>
<circle cx="115.2" cy="105.1" r="4.0"/>
<circle cx="117.8" cy="105.4" r="4.0"/>
<circle cx="120.8" cy="106.1" r="4.0"/>
<circle cx="125.2" cy="105.3" r="4.0"/>
<circle cx="127.9" cy="105.4" r="4.0"/>
<circle cx="131.1" cy="105.5" r="4.0"/>
<circle cx="133.8" cy="105.1" r="4.0"/>
<circle cx="137.1" cy="106.3" r="4.0"/>
<circle cx="140.9" cy="105.2" r="4.0"/>
<circle cx="144.9" cy="106.5" r="4.0"/>
<circle cx="147.4" cy="105.1" r="4.0"/>
<circle cx="150.3" cy="105.0" r="4.0"/>
<circle cx="153.8" cy="105.0" r="4.0"/>
<circle cx="86.0" cy="108.2" r="4.0"/>
<circle cx="89.9" cy="109.2" r="4.0"/>
<circle cx="93.4" cy="108.4" r="4.0"/>
<circle cx="96.2" cy="108.6" r="4.0"/>
<circle cx="99.5" cy="108.3" r="4.0"/>
<circle cx="102.2" cy="108.2" r="4.0"/>
<circle cx="107.0" cy="108.0" r="4.0"/>
<circle cx="109.6" cy="108.8" r="4.0"/>
<circle cx="113.4" cy="108.1" r="4.0"/>
<circle cx="115.8" cy="108.1" r="4.0"/>
<circle cx="119.3" cy="108.5" r="4.0"/>
<circle cx="123.5" cy="109.1" r="4.0"/>
<circle cx="126.6" cy="107.8" r="4.0"/>
<circle cx="128.6" cy="108.9" r="4.0"/>
<circle cx="133.3" cy="108.5" r="4.0"/>
<circle cx="136.1" cy="107.7" r="4.0"/>
<circle cx="139.1" cy="109.2" r="4.0"/>
<circle cx="143.1" cy="109.1" r="4.0"/>
<circle cx="146.6" cy="108.1" r="4.0"/>
<circle cx="148.5" cy="108.0" r="4.0"/>
<circle cx="152.5" cy="108.8" r="4.0"/>
<circle cx="156.5" cy="108.9" r="4.0"/>
<circle cx="85.0" cy="111.8" r="4.0"/>
<circle cx="88.0" cy="111.5" r="4.0"/>
<circle cx="90.7" cy="111.9" r="4.0"/>
<circle cx="94.3" cy="112.1" r="4.0"/>
<circle cx="98.2" cy="111.1" r="4.0"/>
<circle cx="100.7" cy="111.0" r="4.0"/>
<circle cx="104.8" cy="111.7" r="4.0"/>
<circle cx="107.3" cy="110.7" r="4.0"/>
<circle cx="111.2" cy="111.6" r="4.0"/>
<circle cx="114.3" cy="111.0" r="4.0"/>
<circle cx="118.0" cy="110.6" r="4.0"/>
<circle cx="120.8" cy="111.4" r="4.0"/>
<circle cx="125.1" cy="111.7" r="4.0"/>
<circle cx="128.3" cy="111.4" r="4.0"/>
<circle cx="130.6" cy="111.0" r="4.0"/>
<circle cx="135.0" cy="111.7" r="4.0"/>
<circle cx="137.3" cy="110.7" r="4.0"/>
<circle cx="140.9" cy="111.7" r="4.0"/>
<circle cx="144.1" cy="111.0" r="4.0"/>
<circle cx="147.8" cy="112.1" r="4.0"/>
<circle cx="150.4" cy="110.7" r="4.0"/>
<circle cx="153.8" cy="111.3" r="4.0"/>
<circle cx="83.4" cy="113.8" r="4.0"/>
<circle cx="86.9" cy="114.7" r="4.0"/>
<circle cx="89.8" cy="113.8" r="4.0"/>
<circle cx="93.8" cy="114.0" r="4.0"/>
<circle cx="96.9" cy="113.9" r="4.0"/>
<circle cx="99.2" cy="114.7" r="4.0"/>
<circle cx="102.6" cy="115.0" r="4.0"/>
<circle cx="106.2" cy="113.8" r="4.0"/>
<circle cx="109.1" cy="114.2" r="4.0"/>
<circle cx="113.1" cy="115.0" r="4.0"/>
<circle cx="115.6" cy="114.1" r="4.0"/>
<circle cx="119.0" cy="115.0" r="4.0"/>
<circle cx="122.2" cy="113.6" r="4.0"/>
<circle cx="125.3" cy="114.1" r="4.0"/>
<circle cx="130.0" cy="114.9" r="4.0"/>
<circle cx="133.0" cy="115.1" r="4.0"/>
<circle cx="136.6" cy="114.0" r="4.0"/>
<circle cx="138.7" cy="115.0" r="4.0"/>
<circle cx="142.9" cy="113.5" r="4.0"/>
<circle cx="146.1" cy="114.1" r="4.0"/>
<circle cx="148.9" cy="114.0" r="4.0"/>
<circle cx="151.9" cy="113.5" r="4.0"/>
<circle cx="155.4" cy="114.1" r="4.0"/>
<circle cx="85.5" cy="116.6" r="4.0"/>
<circle cx="88.8" cy="116.7" r="4.0"/>
<circle cx="91.2" cy="117.7" r="4.0"/>
<circle cx="95.2" cy="117.1" r="4.0"/>
<circle cx="97.3" cy="117.1" r="4.0"/>
<circle cx="101.1" cy="117.8" r="4.0"/>
<circle cx="104.1" cy="116.9" r="4.0"/>
<circle cx="108.5" cy="116.4" r="4.0"/>
<circle cx="111.1" cy="117.7" r="4.0"/>
<circle cx="114.9" cy="116.4" r="4.0"/>
<circle cx="117.1" cy="116.5" r="4.0"/>
<circle cx="121.8" cy="116.8" r="4.0"/>
<circle cx="124.8" cy="117.8" r="4.0"/>
<circle cx="127.4" cy="116.8" r="4.0"/>
<circle cx="131.7" cy="117.3" r="4.0"/>
<circle cx="133.9" cy="117.5" r="4.0"/>
<circle cx="137.3" cy="116.8" r="4.0"/>
<circle cx="140.1" cy="117.6" r="4.0"/>
<circle cx="144.9" cy="117.4" r="4.0"/>
<circle cx="148.2" cy="116.4" r="4.0"/>
<circle cx="150.4" cy="117.1" r="4.0"/>
<circle cx="154.8" cy="117.9" r="4.0"/>
<circle cx="83.0" cy="119.6" r="4.0"/>
<circle cx="86.3" cy="120.0" r="4.0"/>
<circle cx="90.4" cy="119.5" r="4.0"/>
<circle cx="93.5" cy="120.4" r="4.0"/>
<circle cx="96.9" cy="120.5" r="4.0"/>
<circle cx="99.8" cy="119.8" r="4.0"/>
<circle cx="102.7" cy="119.8" r="4.0"/>
<circle cx="106.7" cy="119.4" r="4.0"/>
<circle cx="109.1" cy="120.4" r="4.0"/>
<circle cx="112.4" cy="119.3" r="4.0"/>
<circle cx="115.4" cy="120.1" r="4.0"/>
<circle cx="119.2" cy="120.8" r="4.0"/>
<circle cx="123.4" cy="120.8" r="4.0"/>
<circle cx="125.7" cy="119.4" r="4.0"/>
<circle cx="128.7" cy="120.0" r="4.0"/>
<circle cx="133.0" cy="119.9" r="4.0"/>
<circle cx="135.5" cy="119.9" r="4.0"/>
<circle cx="139.4" cy="120.3" r="4.0"/>
<circle cx="142.9" cy="120.6" r="4.0"/>
<circle cx="146.1" cy="119.4" r="4.0"/>
<circle cx="149.7" cy="119.7" r="4.0"/>
<circle cx="152.6" cy="119.8" r="4.0"/>
<circle cx="156.1" cy="119.6" r="4.0"/>
<circle cx="158.6" cy="119.6" r="4.0"/>
<circle cx="161.8" cy="120.6" r="4.0"/>
<circle cx="165.8" cy="119.8" r="4.0"/>
<circle cx="84.6" cy="123.7" r="4.0"/>
<circle cx="88.1" cy="122.5" r="4.0"/>
<circle cx="91.9" cy="123.1" r="4.0"/>
<circle cx="95.5" cy="122.3" r="4.0"/>
<circle cx="98.0" cy="123.4" r="4.0"/>
<circle cx="101.8" cy="123.6" r="4.0"/>
<circle cx="103.9" cy="122.6" r="4.0"/>
<circle cx="107.3" cy="122.4" r="4.0"/>
<circle cx="112.0" cy="123.0" r="4.0"/>
<circle cx="115.2" cy="122.7" r="4.0"/>
<circle cx="118.4" cy="122.8" r="4.0"/>
<circle cx="120.7" cy="123.3" r="4.0"/>
<circle cx="125.1" cy="122.3" r="4.0"/>
<circle cx="127.9" cy="123.1" r="4.0"/>
<circle cx="130.5" cy="122.7" r="4.0"/>
<circle cx="133.7" cy="122.4" r="4.0"/>
<circle cx="137.2" cy="123.1" r="4.0"/>
<circle cx="141.1" cy="122.4" r="4.0"/>
<circle cx="143.4" cy="122.6" r="4.0"/>
<circle cx="147.8" cy="122.4" r="4.0"/>
<circle cx="150.5" cy="122.4" r="4.0"/>
<circle cx="154.6" cy="123.0" r="4.0"/>
<circle cx="156.7" cy="122.3" r="4.0"/>
<circle cx="160.5" cy="123.0" r="4.0"/>
<circle cx="164.2" cy="122.2" r="4.0"/>
<circle cx="166.8" cy="123.2" r="4.0"/>
<circle cx="170.5" cy="122.6" r="4.0"/>
<circle cx="173.6" cy="123.6" r="4.0"/>
<circle cx="102.6" cy="125.9" r="4.0"/>
<circle cx="106.0" cy="125.6" r="4.0"/>
<circle cx="110.1" cy="126.6" r="4.0"/>
<circle cx="112.6" cy="125.3" r="4.0"/>
<circle cx="116.5" cy="125.3" r="4.0"/>
<circle cx="118.7" cy="126.4" r="4.0"/>
<circle cx="122.6" cy="126.3" r="4.0"/>
<circle cx="125.9" cy="126.4" r="4.0"/>
<circle cx="129.3" cy="125.2" r="4.0"/>
<circle cx="131.9" cy="125.9" r="4.0"/>
<circle cx="136.2" cy="126.4" r="4.0"/>
<circle cx="138.6" cy="126.0" r="4.0"/>
<circle cx="142.3" cy="125.8" r="4.0"/>
<circle cx="145.3" cy="125.4" r="4.0"/>
<circle cx="149.2" cy="126.5" r="4.0"/>
<circle cx="151.8" cy="125.8" r="4.0"/>
<circle cx="156.2" cy="126.5" r="4.0"/>
<circle cx="158.6" cy="125.2" r="4.0"/>
<circle cx="163.1" cy="126.5" r="4.0"/>
<circle cx="165.6" cy="125.1" r="4.0"/>
<circle cx="169.6" cy="125.6" r="4.0"/>
<circle cx="172.9" cy="126.0" r="4.0"/>
<circle cx="176.1" cy="125.2" r="4.0"/>
<circle cx="111.7" cy="128.2" r="4.0"/>
<circle cx="114.3" cy="129.2" r="4.0"/>
<circle cx="118.3" cy="128.1" r="4.0"/>
<circle cx="120.6" cy="128.5" r="4.0"/>
<circle cx="124.4" cy="128.5" r="4.0"/>
<circle cx="127.1" cy="128.2" r="4.0"/>
<circle cx="131.4" cy="129.3" r="4.0"/>
<circle cx="133.6" cy="128.7" r="4.0"/>
<circle cx="138.0" cy="127.9" r="4.0"/>
<circle cx="141.4" cy="128.0" r="4.0"/>
<circle cx="144.4" cy="128.7" r="4.0"/>
<circle cx="147.7" cy="128.3" r="4.0"/>
<circle cx="150.7" cy="128.8" r="4.0"/>
<circle cx="154.0" cy="128.9" r="4.0"/>
<circle cx="157.3" cy="128.5" r="4.0"/>
<circle cx="159.9" cy="128.8" r="4.0"/>
<circle cx="164.0" cy="128.2" r="4.0"/>
<circle cx="167.7" cy="129.1" r="4.0"/>
<circle cx="170.5" cy="128.1" r="4.0"/>
<circle cx="173.9" cy="128.0" r="4.0"/>
<circle cx="109.0" cy="131.4" r="4.0"/>
<circle cx="112.2" cy="131.4" r="4.0"/>
<circle cx="116.2" cy="130.8" r="4.0"/>
<circle cx="119.7" cy="130.8" r="4.0"/>
<circle cx="123.1" cy="132.0" r="4.0"/>
<circle cx="126.1" cy="130.8" r="4.0"/>
<circle cx="129.4" cy="131.3" r="4.0"/>
<circle cx="133.4" cy="130.9" r="4.0"/>
<circle cx="136.5" cy="132.3" r="4.0"/>
<circle cx="139.6" cy="132.0" r="4.0"/>
<circle cx="142.1" cy="132.3" r="4.0"/>
<circle cx="145.8" cy="132.2" r="4.0"/>
<circle cx="149.8" cy="131.0" r="4.0"/>
<circle cx="152.9" cy="132.2" r="4.0"/>
<circle cx="155.1" cy="131.3" r="4.0"/>
<circle cx="159.5" cy="131.0" r="4.0"/>
<circle cx="163.0" cy="131.2" r="4.0"/>
<circle cx="166.2" cy="130.9" r="4.0"/>
<circle cx="169.0" cy="132.2" r="4.0"/>
<circle cx="171.8" cy="131.1" r="4.0"/>
<circle cx="175.6" cy="131.2" r="4.0"/>
<circle cx="113.8" cy="133.9" r="4.0"/>
<circle cx="117.3" cy="135.1" r="4.0"/>
<circle cx="121.4" cy="135.0" r="4.0"/>
<circle cx="123.9" cy="134.8" r="4.0"/>
<circle cx="127.1" cy="134.4" r="4.0"/>
<circle cx="131.2" cy="134.2" r="4.0"/>
<circle cx="134.9" cy="134.5" r="4.0"/>
<circle cx="137.7" cy="135.0" r="4.0"/>
<circle cx="140.3" cy="135.2" r="4.0"/>
<circle cx="144.4" cy="134.2" r="4.0"/>
<circle cx="148.0" cy="134.0" r="4.0"/>
<circle cx="151.6" cy="134.5" r="4.0"/>
<circle cx="153.9" cy="134.8" r="4.0"/>
<circle cx="157.3" cy="133.9" r="4.0"/>
<circle cx="161.1" cy="133.7" r="4.0"/>
<circle cx="164.5" cy="134.0" r="4.0"/>
<circle cx="167.5" cy="135.2" r="4.0"/>
<circle cx="170.7" cy="134.6" r="4.0"/>
<circle cx="173.6" cy="133.6" r="4.0"/>
<circle cx="122.0" cy="136.7" r="4.0"/>
<circle cx="126.2" cy="137.2" r="4.0"/>
<circle cx="129.4" cy="137.9" r="4.0"/>
<circle cx="132.1" cy="136.8" r="4.0"/>
<circle cx="136.2" cy="136.5" r="4.0"/>
<circle cx="138.5" cy="137.0" r="4.0"/>
<circle cx="141.9" cy="137.0" r="4.0"/>
<circle cx="145.4" cy="137.4" r="4.0"/>
<circle cx="149.3" cy="136.8" r="4.0"/>
<circle cx="152.6" cy="137.2" r="4.0"/>
<circle cx="155.2" cy="138.0" r="4.0"/>
<circle cx="158.6" cy="136.7" r="4.0"/>
<circle cx="161.7" cy="137.5" r="4.0"/>
<circle cx="166.2" cy="137.7" r="4.0"/>
<circle cx="168.8" cy="136.9" r="4.0"/>
<circle cx="171.5" cy="137.5" r="4.0"/>
<circle cx="124.5" cy="139.9" r="4.0"/>
<circle cx="127.9" cy="140.0" r="4.0"/>
<circle cx="131.7" cy="140.5" r="4.0"/>
<circle cx="133.9" cy="140.8" r="4.0"/>
<circle cx="136.9" cy="140.2" r="4.0"/>
<circle cx="140.7" cy="139.7" r="4.0"/>
<circle cx="143.5" cy="140.6" r="4.0"/>
<circle cx="146.7" cy="140.2" r="4.0"/>
<circle cx="151.5" cy="139.6" r="4.0"/>
<circle cx="153.6" cy="140.3" r="4.0"/>
<circle cx="157.4" cy="140.4" r="4.0"/>
<circle cx="161.2" cy="139.6" r="4.0"/>
<circle cx="163.7" cy="139.8" r="4.0"/>
<circle cx="166.6" cy="140.8" r="4.0"/>
<circle cx="171.1" cy="140.5" r="4.0"/>
<circle cx="122.0" cy="143.6" r="4.0"/>
<circle cx="126.4" cy="142.9" r="4.0"/>
<circle cx="129.7" cy="142.9" r="4.0"/>
<circle cx="132.2" cy="142.4" r="4.0"/>
<circle cx="135.5" cy="142.3" r="4.0"/>
<circle cx="139.0" cy="143.4" r="4.0"/>
<circle cx="142.9" cy="143.6" r="4.0"/>
<circle cx="146.2" cy="142.6" r="4.0"/>
<circle cx="149.2" cy="142.9" r="4.0"/>
<circle cx="152.9" cy="143.0" r="4.0"/>
<circle cx="155.4" cy="143.2" r="4.0"/>
<circle cx="159.8" cy="142.5" r="4.0"/>
<circle cx="163.0" cy="142.2" r="4.0"/>
<circle cx="165.3" cy="142.6" r="4.0"/>
<circle cx="169.3" cy="143.7" r="4.0"/>
<circle cx="172.6" cy="142.7" r="4.0"/>
<circle cx="125.0" cy="145.6" r="4.0"/>
<circle cx="127.3" cy="146.5" r="4.0"/>
<circle cx="131.2" cy="146.2" r="4.0"/>
<circle cx="134.6" cy="146.6" r="4.0"/>
<circle cx="137.6" cy="146.4" r="4.0"/>
<circle cx="141.2" cy="146.4" r="4.0"/>
<circle cx="144.1" cy="146.2" r="4.0"/>
<circle cx="147.6" cy="145.6" r="4.0"/>
<circle cx="150.3" cy="146.1" r="4.0"/>
<circle cx="153.4" cy="146.5" r="4.0"/>
<circle cx="156.8" cy="145.1" r="4.0"/>
<circle cx="160.1" cy="146.6" r="4.0"/>
<circle cx="163.8" cy="145.3" r="4.0"/>
<circle cx="166.5" cy="145.1" r="4.0"/>
<circle cx="170.9" cy="146.1" r="4.0"/>
<circle cx="123.1" cy="149.1" r="4.0"/>
<circle cx="125.4" cy="148.9" r="4.0"/>
<circle cx="129.1" cy="149.3" r="4.0"/>
<circle cx="133.2" cy="149.4" r="4.0"/>
<circle cx="135.3" cy="149.3" r="4.0"/>
<circle cx="139.9" cy="149.5" r="4.0"/>
<circle cx="141.9" cy="148.3" r="4.0"/>
<circle cx="145.2" cy="148.0" r="4.0"/>
<circle cx="149.7" cy="149.2" r="4.0"/>
<circle cx="152.7" cy="149.3" r="4.0"/>
<circle cx="156.0" cy="148.4" r="4.0"/>
<circle cx="158.4" cy="148.1" r="4.0"/>
<circle cx="162.8" cy="148.3" r="4.0"/>
<circle cx="165.4" cy="148.6" r="4.0"/>
<circle cx="168.2" cy="148.4" r="4.0"/>
<circle cx="171.9" cy="149.1" r="4.0"/>
<circle cx="124.2" cy="151.3" r="4.0"/>
<circle cx="128.4" cy="151.6" r="4.0"/>
<circle cx="131.6" cy="151.8" r="4.0"/>
<circle cx="133.5" cy="151.5" r="4.0"/>
<circle cx="137.5" cy="152.1" r="4.0"/>
<circle cx="140.7" cy="151.9" r="4.0"/>
<circle cx="144.3" cy="151.2" r="4.0"/>
<circle cx="148.1" cy="151.0" r="4.0"/>
<circle cx="151.3" cy="151.1" r="4.0"/>
<circle cx="153.3" cy="151.1" r="4.0"/>
<circle cx="157.8" cy="152.4" r="4.0"/>
<circle cx="159.9" cy="151.6" r="4.0"/>
<circle cx="164.0" cy="152.1" r="4.0"/>
<circle cx="166.8" cy="151.6" r="4.0"/>
<circle cx="122.5" cy="155.0" r="4.0"/>
<circle cx="125.7" cy="155.2" r="4.0"/>
<circle cx="129.0" cy="154.0" r="4.0"/>
<circle cx="133.0" cy="154.5" r="4.0"/>
<circle cx="135.3" cy="154.7" r="4.0"/>
<circle cx="138.6" cy="154.9" r="4.0"/>
<circle cx="142.9" cy="154.9" r="4.0"/>
<circle cx="146.1" cy="154.3" r="4.0"/>
<circle cx="149.0" cy="154.3" r="4.0"/>
<circle cx="153.1" cy="153.8" r="4.0"/>
<circle cx="156.4" cy="153.7" r="4.0"/>
<circle cx="158.6" cy="154.1" r="4.0"/>
<circle cx="121.7" cy="157.4" r="4.0"/>
<circle cx="124.2" cy="158.0" r="4.0"/>
<circle cx="127.3" cy="157.3" r="4.0"/>
<circle cx="131.1" cy="157.8" r="4.0"/>
<circle cx="134.7" cy="157.6" r="4.0"/>
<circle cx="137.4" cy="157.1" r="4.0"/>
<circle cx="140.3" cy="157.9" r="4.0"/>
<circle cx="144.5" cy="157.7" r="4.0"/>
<circle cx="147.0" cy="157.3" r="4.0"/>
<circle cx="151.2" cy="157.5" r="4.0"/>
<circle cx="131.0" cy="156.0" r="4.0"/>
<circle cx="136.0" cy="155.5" r="4.0"/>
<circle cx="138.1" cy="155.6" r="4.0"/>
<circle cx="142.7" cy="156.7" r="4.0"/>
<circle cx="145.1" cy="155.4" r="4.0"/>
<circle cx="148.7" cy="155.7" r="4.0"/>
<circle cx="152.8" cy="155.4" r="4.0"/>
<circle cx="155.9" cy="155.4" r="4.0"/>
<circle cx="118.7" cy="160.0" r="4.0"/>
<circle cx="122.2" cy="158.9" r="4.0"/>
<circle cx="127.5" cy="159.7" r="4.0"/>
<circle cx="130.5" cy="159.0" r="4.0"/>
<circle cx="132.9" cy="159.4" r="4.0"/>
<circle cx="136.2" cy="158.5" r="4.0"/>
<circle cx="140.3" cy="158.2" r="4.0"/>
<circle cx="143.8" cy="159.7" r="4.0"/>
<circle cx="118.6" cy="162.0" r="4.0"/>
<circle cx="121.4" cy="162.6" r="4.0"/>
<circle cx="124.6" cy="161.6" r="4.0"/>
<circle cx="128.7" cy="162.9" r="4.0"/>
<circle cx="132.3" cy="162.5" r="4.0"/>
<circle cx="136.0" cy="162.5" r="4.0"/>
<circle cx="139.0" cy="162.0" r="4.0"/>
<circle cx="141.9" cy="162.4" r="4.0"/>
<circle cx="144.9" cy="162.0" r="4.0"/>
<circle cx="116.4" cy="166.0" r="4.0"/>
<circle cx="118.9" cy="165.5" r="4.0"/>
<circle cx="123.6" cy="165.0" r="4.0"/>
<circle cx="126.5" cy="166.1" r="4.0"/>
<circle cx="129.1" cy="165.3" r="4.0"/>
<circle cx="132.8" cy="165.7" r="4.0"/>
<circle cx="137.9" cy="165.2" r="4.0"/>
<circle cx="139.7" cy="165.3" r="4.0"/>
<circle cx="144.1" cy="165.6" r="4.0"/>
<circle cx="114.0" cy="168.8" r="4.0"/>
<circle cx="117.0" cy="169.2" r="4.0"/>
<circle cx="121.0" cy="167.3" r="4.0"/>
<circle cx="124.3" cy="168.0" r="4.0"/>
<circle cx="127.3" cy="168.1" r="4.0"/>
<circle cx="131.6" cy="168.6" r="4.0"/>
<circle cx="135.0" cy="167.8" r="4.0"/>
<circle cx="138.2" cy="168.7" r="4.0"/>
<circle cx="143.1" cy="168.3" r="4.0"/>
<circle cx="115.5" cy="172.2" r="4.0"/>
<circle cx="119.2" cy="171.5" r="4.0"/>
<circle cx="123.6" cy="171.9" r="4.0"/>
<circle cx="126.4" cy="170.9" r="4.0"/>
<circle cx="130.1" cy="170.5" r="4.0"/>
<circle cx="134.2" cy="171.0" r="4.0"/>
<circle cx="137.7" cy="170.8" r="4.0"/>
<circle cx="140.3" cy="170.8" r="4.0"/>
<circle cx="114.6" cy="174.0" r="4.0"/>
<circle cx="118.6" cy="175.0" r="4.0"/>
<circle cx="120.4" cy="175.0" r="4.0"/>
<circle cx="125.6" cy="174.9" r="4.0"/>
<circle cx="127.5" cy="175.0" r="4.0"/>
<circle cx="132.0" cy="173.3" r="4.0"/>
<circle cx="116.3" cy="178.1" r="4.0"/>
<circle cx="120.1" cy="178.0" r="4.0"/>
<circle cx="122.4" cy="177.7" r="4.0"/>
<circle cx="126.6" cy="177.8" r="4.0"/>
<circle cx="129.9" cy="178.1" r="4.0"/>
<circle cx="114.6" cy="181.1" r="4.0"/>
<circle cx="117.5" cy="180.2" r="4.0"/>
<circle cx="122.2" cy="179.6" r="4.0"/>
<circle cx="125.0" cy="180.7" r="4.0"/>
<circle cx="127.3" cy="180.6" r="4.0"/>
<circle cx="138.8" cy="180.4" r="4.0"/>
<circle cx="115.8" cy="183.6" r="4.0"/>
<circle cx="120.2" cy="183.0" r="4.0"/>
<circle cx="123.7" cy="183.3" r="4.0"/>
<circle cx="126.5" cy="183.0" r="4.0"/>
<circle cx="130.0" cy="184.4" r="4.0"/>
<circle cx="133.8" cy="184.0" r="4.0"/>
<circle cx="136.7" cy="183.1" r="4.0"/>
<circle cx="140.1" cy="183.6" r="4.0"/>
<circle cx="144.3" cy="184.0" r="4.0"/>
<circle cx="146.6" cy="183.9" r="4.0"/>
<circle cx="122.1" cy="186.7" r="4.0"/>
<circle cx="125.1" cy="187.1" r="4.0"/>
<circle cx="129.1" cy="186.7" r="4.0"/>
<circle cx="132.0" cy="186.7" r="4.0"/>
<circle cx="135.6" cy="186.7" r="4.0"/>
<circle cx="139.1" cy="185.9" r="4.0"/>
<circle cx="142.6" cy="186.4" r="4.0"/>
<circle cx="146.3" cy="185.7" r="4.0"/>
<circle cx="148.6" cy="185.6" r="4.0"/>
<circle cx="153.3" cy="187.3" r="4.0"/>
<circle cx="156.6" cy="186.2" r="4.0"/>
<circle cx="160.4" cy="187.1" r="4.0"/>
<circle cx="123.1" cy="189.1" r="4.0"/>
<circle cx="126.1" cy="189.4" r="4.0"/>
<circle cx="129.6" cy="189.4" r="4.0"/>
<circle cx="133.8" cy="190.4" r="4.0"/>
<circle cx="136.1" cy="189.7" r="4.0"/>
<circle cx="139.6" cy="188.8" r="4.0"/>
<circle cx="144.6" cy="189.7" r="4.0"/>
<circle cx="148.3" cy="189.4" r="4.0"/>
<circle cx="150.0" cy="189.3" r="4.0"/>
<circle cx="154.7" cy="190.4" r="4.0"/>
<circle cx="159.0" cy="189.5" r="4.0"/>
<circle cx="161.8" cy="154.4" r="4.0"/>
<circle cx="181.3" cy="156.7" r="4.0"/>
<circle cx="185.5" cy="154.1" r="4.0"/>
<circle cx="180.9" cy="159.8" r="4.0"/>
<circle cx="184.5" cy="160.4" r="4.0"/>
<circle cx="188.0" cy="160.5" r="4.0"/>
<circle cx="177.4" cy="163.8" r="4.0"/>
<circle cx="182.5" cy="161.4" r="4.0"/>
<circle cx="186.3" cy="162.9" r="4.0"/>
<circle cx="190.6" cy="163.2" r="4.0"/>
<circle cx="172.0" cy="167.1" r="4.0"/>
<circle cx="177.7" cy="167.1" r="4.0"/>
<circle cx="180.7" cy="165.6" r="4.0"/>
<circle cx="183.3" cy="167.7" r="4.0"/>
<circle cx="189.3" cy="167.3" r="4.0"/>
<circle cx="192.3" cy="166.6" r="4.0"/>
<circle cx="198.3" cy="167.3" r="4.0"/>
<circle cx="201.3" cy="165.7" r="4.0"/>
<circle cx="204.9" cy="167.4" r="4.0"/>
<circle cx="166.5" cy="171.0" r="4.0"/>
<circle cx="171.2" cy="169.2" r="4.0"/>
<circle cx="172.9" cy="169.1" r="4.0"/>
<circle cx="178.2" cy="170.1" r="4.0"/>
<circle cx="183.5" cy="171.0" r="4.0"/>
<circle cx="185.3" cy="170.8" r="4.0"/>
<circle cx="191.7" cy="170.9" r="4.0"/>
<circle cx="195.1" cy="169.2" r="4.0"/>
<circle cx="200.0" cy="170.8" r="4.0"/>
<circle cx="203.6" cy="171.1" r="4.0"/>
<circle cx="206.7" cy="168.6" r="4.0"/>
<circle cx="169.5" cy="172.6" r="4.0"/>
<circle cx="172.6" cy="173.9" r="4.0"/>
<circle cx="176.3" cy="172.5" r="4.0"/>
<circle cx="179.8" cy="174.2" r="4.0"/>
<circle cx="185.5" cy="173.3" r="4.0"/>
<circle cx="187.5" cy="174.3" r="4.0"/>
<circle cx="193.6" cy="172.6" r="4.0"/>
<circle cx="197.1" cy="174.6" r="4.0"/>
<circle cx="202.2" cy="173.5" r="4.0"/>
<circle cx="205.0" cy="173.7" r="4.0"/>
<circle cx="165.2" cy="177.6" r="4.0"/>
<circle cx="169.8" cy="177.2" r="4.0"/>
<circle cx="174.1" cy="177.0" r="4.0"/>
<circle cx="177.4" cy="175.6" r="4.0"/>
<circle cx="184.0" cy="176.6" r="4.0"/>
<circle cx="185.5" cy="177.4" r="4.0"/>
<circle cx="191.6" cy="175.9" r="4.0"/>
<circle cx="195.1" cy="176.5" r="4.0"/>
<circle cx="199.0" cy="175.5" r="4.0"/>
<circle cx="201.7" cy="178.4" r="4.0"/>
<circle cx="208.2" cy="176.9" r="4.0"/>
<circle cx="164.9" cy="180.3" r="4.0"/>
<circle cx="169.5" cy="181.3" r="4.0"/>
<circle cx="173.3" cy="181.9" r="4.0"/>
<circle cx="175.7" cy="179.1" r="4.0"/>
<circle cx="179.6" cy="179.6" r="4.0"/>
<circle cx="183.4" cy="179.2" r="4.0"/>
<circle cx="188.9" cy="181.6" r="4.0"/>
<circle cx="192.7" cy="181.9" r="4.0"/>
<circle cx="198.1" cy="179.2" r="4.0"/>
<circle cx="201.3" cy="180.2" r="4.0"/>
<circle cx="204.0" cy="181.9" r="4.0"/>
<circle cx="208.5" cy="180.7" r="4.0"/>
<circle cx="162.5" cy="185.5" r="4.0"/>
<circle cx="166.7" cy="183.8" r="4.0"/>
<circle cx="170.1" cy="183.1" r="4.0"/>
<circle cx="175.7" cy="185.6" r="4.0"/>
<circle cx="177.6" cy="182.7" r="4.0"/>
<circle cx="181.8" cy="183.7" r="4.0"/>
<circle cx="187.9" cy="185.3" r="4.0"/>
<circle cx="191.8" cy="182.7" r="4.0"/>
<circle cx="195.7" cy="184.7" r="4.0"/>
<circle cx="199.4" cy="185.6" r="4.0"/>
<circle cx="201.7" cy="183.0" r="4.0"/>
<circle cx="207.9" cy="185.4" r="4.0"/>
<circle cx="160.5" cy="187.1" r="4.0"/>
<circle cx="164.4" cy="188.4" r="4.0"/>
<circle cx="167.0" cy="187.1" r="4.0"/>
<circle cx="171.6" cy="186.5" r="4.0"/>
<circle cx="176.3" cy="186.7" r="4.0"/>
<circle cx="179.7" cy="186.6" r="4.0"/>
<circle cx="185.1" cy="186.2" r="4.0"/>
<circle cx="189.4" cy="186.8" r="4.0"/>
<circle cx="191.4" cy="189.0" r="4.0"/>
<circle cx="196.1" cy="189.0" r="4.0"/>
<circle cx="202.1" cy="188.8" r="4.0"/>
<circle cx="204.0" cy="187.5" r="4.0"/>
<circle cx="208.0" cy="189.0" r="4.0"/>
<circle cx="162.0" cy="87.0" r="4.0"/>
<circle cx="164.7" cy="88.8" r="4.0"/>
<circle cx="167.3" cy="90.7" r="4.0"/>
<circle cx="170.0" cy="92.5" r="4.0"/>
<circle cx="172.7" cy="94.3" r="4.0"/>
<circle cx="175.3" cy="96.2" r="4.0"/>
<circle cx="178.0" cy="98.0" r="4.0"/>
<circle cx="160.0" cy="90.0" r="4.0"/>
<circle cx="162.8" cy="92.0" r="4.0"/>
<circle cx="165.6" cy="94.0" r="4.0"/>
<circle cx="168.4" cy="96.0" r="4.0"/>
<circle cx="171.2" cy="98.0" r="4.0"/>
<circle cx="174.0" cy="100.0" r="4.0"/>
<circle cx="163.0" cy="103.0" r="4.0"/>
<circle cx="168.0" cy="109.0" r="4.0"/>
<circle cx="173.0" cy="114.0" r="4.0"/>
<circle cx="178.0" cy="117.0" r="4.0"/>
<circle cx="181.0" cy="117.6" r="4.0"/>
<circle cx="184.0" cy="118.2" r="4.0"/>
<circle cx="187.0" cy="118.9" r="4.0"/>
<circle cx="190.0" cy="119.5" r="4.0"/>
<circle cx="180.0" cy="119.0" r="4.0"/>
<circle cx="184.0" cy="118.0" r="4.0"/>
<circle cx="188.0" cy="117.0" r="4.0"/>
<circle cx="190.5" cy="142.5" r="4.0"/>
<circle cx="192.8" cy="143.6" r="4.0"/>
<circle cx="195.0" cy="144.8" r="4.0"/>
<circle cx="197.2" cy="145.9" r="4.0"/>
<circle cx="199.5" cy="147.0" r="4.0"/>
<circle cx="191.0" cy="146.0" r="4.0"/>
<circle cx="193.3" cy="147.2" r="4.0"/>
<circle cx="195.7" cy="148.3" r="4.0"/>
<circle cx="198.0" cy="149.5" r="4.0"/>
<circle cx="193.0" cy="143.5" r="4.0"/>
<circle cx="196.0" cy="144.0" r="4.0"/>
<circle cx="180.7" cy="138.0" r="4.0"/>
<circle cx="177.4" cy="140.5" r="4.0"/>
<circle cx="179.6" cy="145.5" r="4.0"/>
<circle cx="180.0" cy="122.5" r="4.0"/>
<circle cx="183.0" cy="124.5" r="4.0"/>
<circle cx="181.0" cy="127.0" r="4.0"/>
<circle cx="184.5" cy="121.5" r="4.0"/>
<circle cx="182.0" cy="130.0" r="4.0"/>
<circle cx="179.0" cy="133.0" r="4.0"/>
<circle cx="181.0" cy="150.5" r="4.0"/>
<circle cx="186.0" cy="152.0" r="4.0"/>
<circle cx="179.0" cy="151.5" r="4.0"/>
<circle cx="183.0" cy="153.5" r="4.0"/>
<circle cx="188.0" cy="151.0" r="4.0"/>
<circle cx="176.0" cy="149.5" r="4.0"/>
<circle cx="94.0" cy="133.0" r="4.0"/>
<circle cx="94.4" cy="133.5" r="4.0"/>
<circle cx="97.0" cy="139.0" r="4.0"/>
<circle cx="97.4" cy="139.5" r="4.0"/>
<circle cx="100.0" cy="139.0" r="4.0"/>
<circle cx="100.4" cy="139.5" r="4.0"/>
<circle cx="109.0" cy="142.0" r="4.0"/>
<circle cx="109.4" cy="142.5" r="4.0"/>
<circle cx="96.0" cy="145.5" r="4.0"/>
<circle cx="96.4" cy="146.0" r="4.0"/>
<circle cx="105.5" cy="147.6" r="4.0"/>
<circle cx="105.9" cy="148.1" r="4.0"/>
<circle cx="98.0" cy="151.0" r="4.0"/>
<circle cx="98.4" cy="151.5" r="4.0"/>
<circle cx="104.0" cy="153.5" r="4.0"/>
<circle cx="104.4" cy="154.0" r="4.0"/>
<circle cx="103.4" cy="158.5" r="4.0"/>
<circle cx="103.8" cy="159.0" r="4.0"/>
<circle cx="101.0" cy="143.0" r="4.0"/>
<circle cx="101.4" cy="143.5" r="4.0"/>
<circle cx="102.0" cy="149.0" r="4.0"/>
<circle cx="102.4" cy="149.5" r="4.0"/>
<circle cx="111.5" cy="164.5" r="4.0"/>
<circle cx="115.0" cy="161.6" r="4.0"/>
<circle cx="111.0" cy="175.5" r="4.0"/>
<circle cx="107.5" cy="146.0" r="4.0"/>
<circle cx="108.0" cy="151.0" r="4.0"/>
<circle cx="107.0" cy="156.0" r="4.0"/>
<circle cx="105.5" cy="160.5" r="4.0"/>
<circle cx="160.0" cy="164.5" r="4.0"/>
<circle cx="168.0" cy="164.5" r="4.0"/>
</g>
<polyline fill="none" stroke="#d62728" stroke-width="1.9" stroke-linejoin="round" points="80.4,124.4 107.9,181.8 116.7,190.9 287.7,349.6"/>
<circle cx="80.4" cy="124.4" r="4.4" fill="#d62728"/>
<circle cx="107.9" cy="181.8" r="4.4" fill="#d62728"/>
<circle cx="116.7" cy="190.9" r="4.4" fill="#d62728"/>
<circle cx="287.7" cy="349.6" r="4.4" fill="#d62728"/>
<polyline fill="none" stroke="#ff7f0e" stroke-width="1.9" stroke-dasharray="8.9,3.8" points="80.4,124.4 89.5,127.5 100.5,156.0 107.9,181.8 116.7,190.9 175.3,208.1 188.7,226.0 245.6,267.5 250.0,296.0 261.0,296.4 287.7,349.6"/>
</g>
<rect x="58.1" y="26.1" width="458.5" height="342.2" fill="none" stroke="#000" stroke-width="1.1"/>
<g stroke="#000" stroke-width="1.15">
<line x1="79.0" y1="368.3" x2="79.0" y2="373.1"/>
<line x1="148.1" y1="368.3" x2="148.1" y2="373.1"/>
<line x1="217.2" y1="368.3" x2="217.2" y2="373.1"/>
<line x1="286.3" y1="368.3" x2="286.3" y2="373.1"/>
<line x1="355.4" y1="368.3" x2="355.4" y2="373.1"/>
<line x1="424.4" y1="368.3" x2="424.4" y2="373.1"/>
<line x1="493.5" y1="368.3" x2="493.5" y2="373.1"/>
<line x1="53.3" y1="349.6" x2="58.1" y2="349.6"/>
<line x1="53.3" y1="306.2" x2="58.1" y2="306.2"/>
<line x1="53.3" y1="262.7" x2="58.1" y2="262.7"/>
<line x1="53.3" y1="219.2" x2="58.1" y2="219.2"/>
<line x1="53.3" y1="175.8" x2="58.1" y2="175.8"/>
<line x1="53.3" y1="132.3" x2="58.1" y2="132.3"/>
<line x1="53.3" y1="88.8" x2="58.1" y2="88.8"/>
<line x1="53.3" y1="45.3" x2="58.1" y2="45.3"/>
</g>
<g font-family="'DejaVu Sans','Liberation Sans',sans-serif" font-size="12.90" fill="#000" stroke="#000" stroke-width="0.22">
<text x="79.0" y="387.1" text-anchor="middle">2</text>
<text x="148.1" y="387.1" text-anchor="middle">4</text>
<text x="217.2" y="387.1" text-anchor="middle">6</text>
<text x="286.3" y="387.1" text-anchor="middle">8</text>
<text x="355.9" y="387.1" text-anchor="middle" letter-spacing="-1.1">10</text>
<text x="425.0" y="387.1" text-anchor="middle" letter-spacing="-1.1">12</text>
<text x="494.1" y="387.1" text-anchor="middle" letter-spacing="-1.1">14</text>
<text x="47.6" y="354.6" text-anchor="end" letter-spacing="-0.6">0.0</text>
<text x="47.6" y="311.2" text-anchor="end" letter-spacing="-0.6">0.2</text>
<text x="47.6" y="267.7" text-anchor="end" letter-spacing="-0.6">0.4</text>
<text x="47.6" y="224.2" text-anchor="end" letter-spacing="-0.6">0.6</text>
<text x="47.6" y="180.8" text-anchor="end" letter-spacing="-0.6">0.8</text>
<text x="47.6" y="137.3" text-anchor="end" letter-spacing="-0.6">1.0</text>
<text x="47.6" y="93.8" text-anchor="end" letter-spacing="-0.6">1.2</text>
<text x="47.6" y="50.3" text-anchor="end" letter-spacing="-0.6">1.4</text>
<text x="286.8" y="404.8" text-anchor="middle">C mol glucose / C mol Biomass</text>
<text transform="translate(17.1,197.6) rotate(-90)" text-anchor="middle">O<tspan font-size="9.03" dy="2.1">2</tspan><tspan dy="-2.1"> mol / C mol Biomass</tspan></text>
<text x="286.2" y="17.9" text-anchor="middle" font-size="15.48">Biomass producing EFMs filtered by regulation and operating costs</text>
</g>
<rect x="391.6" y="32.6" width="118.6" height="60.8" rx="2.5" fill="#fff" fill-opacity="0.8" stroke="#ccc" stroke-width="0.9"/>
<line x1="396.6" y1="43.2" x2="423.2" y2="43.2" stroke="#ff7f0e" stroke-width="1.9" stroke-dasharray="7.9,2.4"/>
<line x1="396.6" y1="62.7" x2="423.2" y2="62.7" stroke="#d62728" stroke-width="1.9"/>
<circle cx="409.7" cy="62.7" r="4.4" fill="#d62728"/>
<circle cx="409.7" cy="82.6" r="4.0" fill="#483d8b" fill-opacity="0.95"/>
<g font-family="'DejaVu Sans','Liberation Sans',sans-serif" font-size="12.7" fill="#000" stroke="#000" stroke-width="0.22">
<text x="432.9" y="47.5">frontier</text>
<text x="432.9" y="67.2">optimal</text>
<text x="432.9" y="86.8">suboptimal</text>
</g>
</svg>
</body></html>
